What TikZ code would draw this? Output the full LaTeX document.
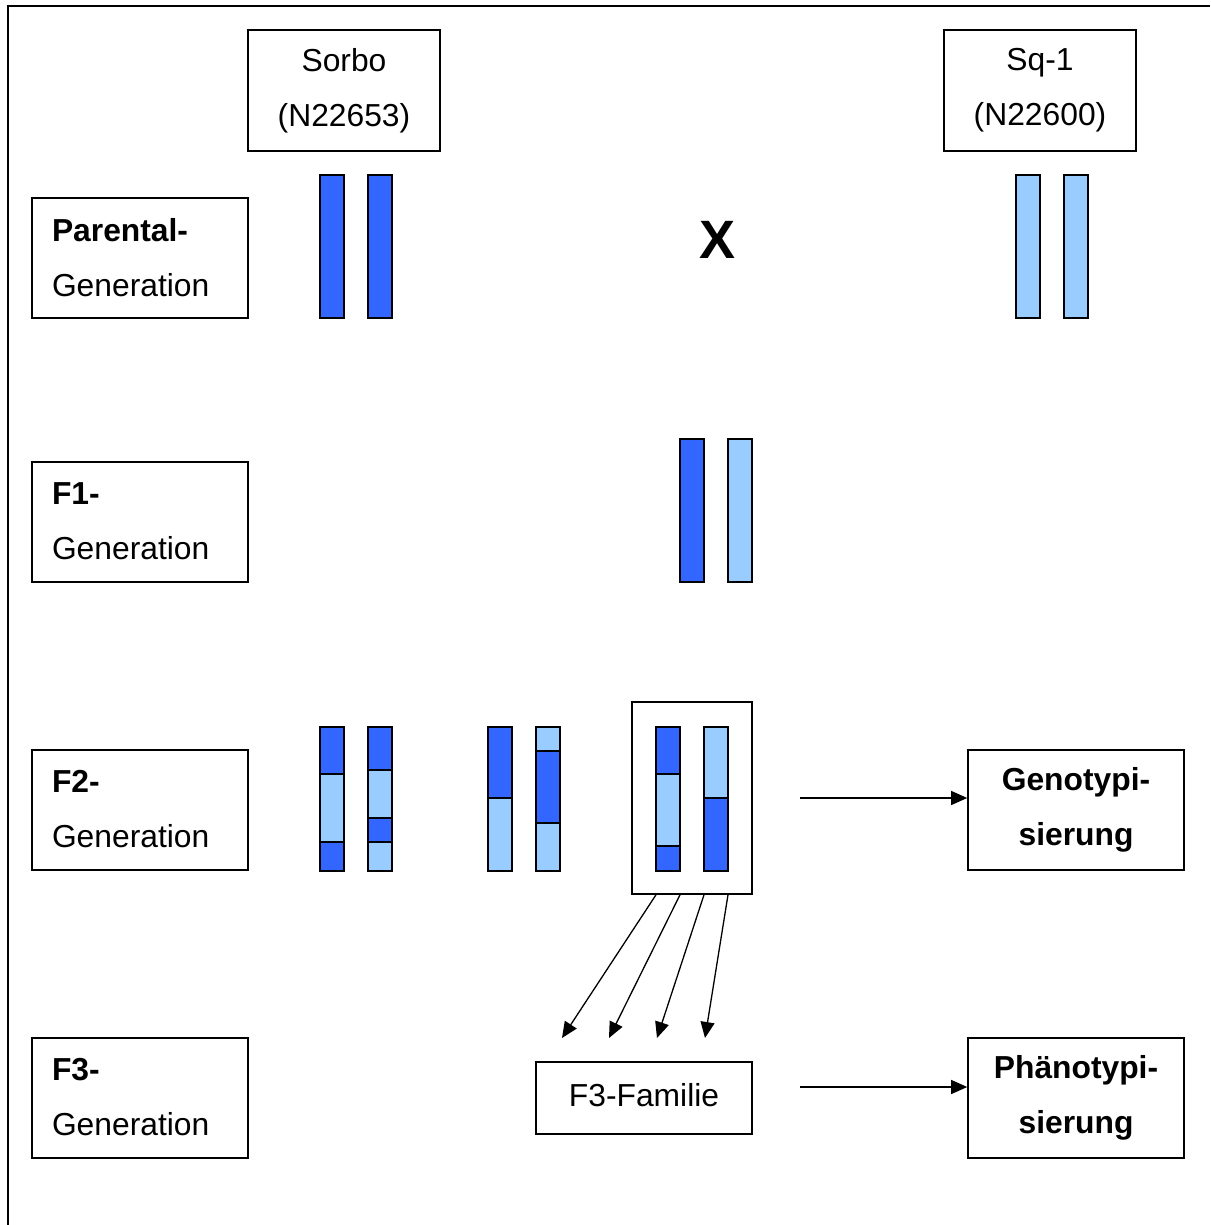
\documentclass[tikz,border=0pt]{standalone}
\usepackage{fontspec}
\setmainfont{Liberation Sans}
\usetikzlibrary{arrows.meta}
\definecolor{dk}{HTML}{3366FF}
\definecolor{lt}{HTML}{99CCFF}
\tikzset{
  lbl/.style={draw, line width=1.6pt, minimum width=216pt, minimum height=120pt, text width=176pt, align=left, inner xsep=20pt, font=\fontsize{31.8}{55}\selectfont},
  parbox/.style={draw, line width=1.6pt, minimum width=192pt, minimum height=121pt, align=center, font=\fontsize{31.8}{55}\selectfont},
  resbox/.style={draw, line width=1.6pt, minimum width=216pt, minimum height=120pt, align=center, font=\bfseries\fontsize{31.8}{55}\selectfont},
  dseg/.style={fill=dk, draw=black, line width=1.5pt},
  lseg/.style={fill=lt, draw=black, line width=1.5pt},
  arr/.style={line width=1.3pt, -{Triangle[length=16pt,width=14pt]}},
}
\begin{document}
\begin{tikzpicture}[x=1pt,y=-1pt]
\useasboundingbox (0,0) rectangle (1210,1225);
\draw[line width=2pt] (8,1225) -- (8,6) -- (1210,6);
% parents
\node[parbox] (sorbo) at (344,90.5) {Sorbo\\(N22653)};
\node[parbox] (sq) at (1040,90.5) {Sq-1\\(N22600)};
% generation labels
\node[lbl] (pg) at (140,258) {\raisebox{2pt}{\textbf{Parental-}}\\\raisebox{2pt}{Generation}};
\node[lbl] (f1) at (140,522) {\raisebox{2pt}{\textbf{F1-}}\\\raisebox{2pt}{Generation}};
\node[lbl] (f2) at (140,810) {\raisebox{2pt}{\textbf{F2-}}\\\raisebox{2pt}{Generation}};
\node[lbl] (f3) at (140,1098) {\raisebox{2pt}{\textbf{F3-}}\\\raisebox{2pt}{Generation}};
% result boxes
\node[resbox] (geno) at (1076,810) {Genotypi-\\sierung};
\node[resbox] (pheno) at (1076,1098) {Phänotypi-\\sierung};
\node[draw, line width=1.6pt, minimum width=216pt, minimum height=72pt, font=\fontsize{31.8}{40}\selectfont] (fam) at (644,1098) {\raisebox{6pt}{F3-Familie}};
% cross
\node[font=\bfseries\fontsize{54}{60}\selectfont] (x) at (717,240) {X};
% parental chromosomes
\draw[dseg] (320,175) rectangle (344,318);
\draw[dseg] (368,175) rectangle (392,318);
\draw[lseg] (1016,175) rectangle (1040,318);
\draw[lseg] (1064,175) rectangle (1088,318);
% F1
\draw[dseg] (680,439) rectangle (704,582);
\draw[lseg] (728,439) rectangle (752,582);
% F2 chromosomes
\draw[dseg] (320,727) rectangle (344,774);
\draw[lseg] (320,774) rectangle (344,842);
\draw[dseg] (320,842) rectangle (344,871);
\draw[dseg] (368,727) rectangle (392,770);
\draw[lseg] (368,770) rectangle (392,818);
\draw[dseg] (368,818) rectangle (392,842);
\draw[lseg] (368,842) rectangle (392,871);
\draw[dseg] (488,727) rectangle (512,798);
\draw[lseg] (488,798) rectangle (512,871);
\draw[lseg] (536,727) rectangle (560,751);
\draw[dseg] (536,751) rectangle (560,823);
\draw[lseg] (536,823) rectangle (560,871);
\node[draw, line width=1.6pt, minimum width=120pt, minimum height=192pt] (sel) at (692,798) {};
\draw[dseg] (656,727) rectangle (680,774);
\draw[lseg] (656,774) rectangle (680,846);
\draw[dseg] (656,846) rectangle (680,871);
\draw[lseg] (704,727) rectangle (728,798);
\draw[dseg] (704,798) rectangle (728,871);
% arrows to F3
\coordinate (s1) at ([xshift=-36pt]sel.south);
\coordinate (s2) at ([xshift=-12pt]sel.south);
\coordinate (s3) at ([xshift=12pt]sel.south);
\coordinate (s4) at ([xshift=36pt]sel.south);
\coordinate (t1) at (562,1038);
\coordinate (t2) at (609,1038);
\coordinate (t3) at (657,1038);
\coordinate (t4) at (705,1038);
\draw[arr] (s1) -- (t1);
\draw[arr] (s2) -- (t2);
\draw[arr] (s3) -- (t3);
\draw[arr] (s4) -- (t4);
% horizontal arrows
\coordinate (g0) at (800,798);
\coordinate (p0) at (800,1087);
\draw[arr] (g0) -- (g0 -| geno.west);
\draw[arr] (p0) -- (p0 -| pheno.west);
\end{tikzpicture}
\end{document}
